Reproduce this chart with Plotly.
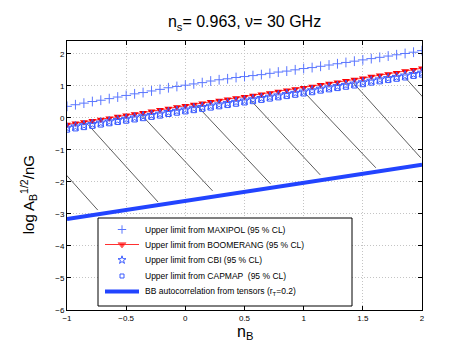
import numpy as np
import plotly.graph_objects as go

# n_B grid the limits were evaluated on (43 points from -1 to 2)
n_B = np.linspace(-1, 2, 43)

# upper limits, log A_B^{1/2}/nG
maxipol = [0.36, 0.41, 0.46, 0.51, 0.55, 0.60, 0.65, 0.70, 0.75, 0.79,
           0.84, 0.89, 0.94, 0.98, 1.02, 1.06, 1.10, 1.15, 1.19, 1.22,
           1.26, 1.29, 1.32, 1.35, 1.39, 1.43, 1.46, 1.50, 1.54, 1.57,
           1.61, 1.65, 1.69, 1.73, 1.77, 1.81, 1.85, 1.89, 1.93, 1.97,
           2.01, 2.05, 2.10]
boomerang = [-0.21, -0.17, -0.13, -0.09, -0.05, -0.01, 0.04, 0.08, 0.12, 0.16,
             0.21, 0.25, 0.29, 0.34, 0.38, 0.42, 0.46, 0.50, 0.54, 0.58,
             0.62, 0.66, 0.70, 0.74, 0.78, 0.82, 0.86, 0.90, 0.94, 0.98,
             1.03, 1.07, 1.11, 1.16, 1.20, 1.24, 1.29, 1.33, 1.37, 1.41,
             1.46, 1.50, 1.55]
cbi = [-0.31, -0.27, -0.23, -0.19, -0.15, -0.11, -0.07, -0.03, 0.01, 0.05,
       0.09, 0.13, 0.18, 0.22, 0.26, 0.30, 0.34, 0.38, 0.42, 0.46,
       0.50, 0.54, 0.58, 0.62, 0.66, 0.70, 0.74, 0.78, 0.82, 0.86,
       0.91, 0.95, 0.99, 1.03, 1.07, 1.11, 1.16, 1.20, 1.24, 1.28,
       1.32, 1.37, 1.41]
capmap = [-0.37, -0.33, -0.29, -0.25, -0.21, -0.17, -0.13, -0.09, -0.05, -0.01,
          0.03, 0.07, 0.12, 0.16, 0.20, 0.24, 0.28, 0.32, 0.36, 0.40,
          0.44, 0.48, 0.52, 0.56, 0.60, 0.64, 0.68, 0.72, 0.76, 0.80,
          0.85, 0.89, 0.93, 0.97, 1.01, 1.05, 1.10, 1.14, 1.18, 1.22,
          1.26, 1.31, 1.35]

# BB autocorrelation from tensors (r_T = 0.2)
bb_n = [-1, -0.5, 0, 0.5, 1, 1.5, 2]
bb_val = [-3.16, -2.88, -2.59, -2.31, -2.02, -1.74, -1.46]

# hatching segments below the limits (start / end in data coords)
hatch_n0 = [-1.33, -0.82, -0.37, 0.09, 0.55, 1.01, 1.42, 1.86]
hatch_y0 = [-0.45, -0.22, 0.09, 0.41, 0.56, 0.78, 1.09, 1.25]
hatch_n1 = [-0.74, -0.23, 0.23, 0.72, 1.14, 1.61, 1.99, 2.30]
hatch_y1 = [-2.88, -2.63, -2.28, -2.06, -1.78, -1.56, -1.25, -0.55]

legend_labels = ["Upper limit from MAXIPOL (95 % CL)",
                 "Upper limit from BOOMERANG (95 % CL)",
                 "Upper limit from CBI (95 % CL)",
                 "Upper limit from CAPMAP  (95 % CL)",
                 "BB autocorrelation from tensors (r<sub>T</sub>=0.2)"]

FONT = "Liberation Sans, Arial, sans-serif"
BLUE = "#3a5aff"
PLUS_BLUE = "#5a76ff"
RED = "#ff0000"
BB_BLUE = "#2244ff"

styles = [
    dict(mode="markers", marker=dict(symbol="cross-thin-open", size=7, color=PLUS_BLUE,
                                     line=dict(color=PLUS_BLUE, width=1))),
    dict(mode="lines+markers", line=dict(color="#ff3030", width=1),
         marker=dict(symbol="triangle-down", size=7, color=RED)),
    dict(mode="markers", marker=dict(symbol="star-open", size=7, color=BLUE,
                                     line=dict(color=BLUE, width=1))),
    dict(mode="markers", marker=dict(symbol="square-open", size=5, color=BLUE,
                                     line=dict(color=BLUE, width=1))),
    dict(mode="lines", line=dict(color=BB_BLUE, width=4)),
]
legend_marker_size = [6, 7, 6, 4, None]

fig = go.Figure()

# hatching first so the markers sit on top
hx, hy = [], []
for a, b, c, d in zip(hatch_n0, hatch_y0, hatch_n1, hatch_y1):
    hx += [a, c, None]
    hy += [b, d, None]
fig.add_trace(go.Scatter(x=hx, y=hy, mode="lines", showlegend=False,
                         line=dict(color="#333333", width=0.8), hoverinfo="skip"))

series = [(n_B, maxipol), (n_B, boomerang), (n_B, cbi), (n_B, capmap), (bb_n, bb_val)]
for (xs, ys), st, lab in zip(series, styles, legend_labels):
    fig.add_trace(go.Scatter(x=xs, y=ys, name=lab, showlegend=False, **st))

# MATLAB-like legend box, drawn on an overlay axis measured in pixels
fig.add_trace(go.Scatter(x=[90, 344, 344, 90, 90], y=[210, 210, 298, 298, 210],
                         xaxis="x2", yaxis="y2", mode="lines", fill="toself",
                         fillcolor="white", line=dict(color="black", width=1),
                         showlegend=False, hoverinfo="skip"))
leg_y = [221.5, 236.5, 252, 268, 283.5]
for yy, st, lab, ms in zip(leg_y, styles, legend_labels, legend_marker_size):
    mk = dict(st.get("marker", {}))
    if st["mode"] == "markers":
        xs, ys = [114], [yy]
        mk["size"] = ms
    else:
        xs, ys = [97, 114, 131], [yy, yy, yy]
        if mk:
            mk["size"] = [0, ms, 0]
    fig.add_trace(go.Scatter(x=xs, y=ys, xaxis="x2", yaxis="y2", mode=st["mode"],
                             line=st.get("line"), marker=mk or None,
                             showlegend=False, hoverinfo="skip", cliponaxis=False))
    fig.add_annotation(text=lab, x=135, y=yy, xref="x2", yref="y2", showarrow=False,
                       xanchor="left", yanchor="middle", font=dict(size=8.5))

axis_common = dict(
    showline=True, linecolor="black", linewidth=1, mirror="ticks",
    ticks="inside", ticklen=4, tickcolor="black",
    showgrid=True, gridcolor="#c4c4c4", griddash="1px,2px", gridwidth=1,
    zeroline=False, tickfont=dict(family=FONT, size=8, color="black"),
)

fig.update_xaxes(range=[-1, 2], tickvals=[-1, -0.5, 0, 0.5, 1, 1.5, 2], **axis_common)
fig.update_yaxes(range=[-6, 2.4], tickvals=[-6, -5, -4, -3, -2, -1, 0, 1, 2], **axis_common)

fig.update_layout(
    width=458, height=343,
    margin=dict(l=59, r=44, t=33, b=41),
    paper_bgcolor="white", plot_bgcolor="white",
    font=dict(family=FONT, color="black"),
    showlegend=False,
    xaxis2=dict(overlaying="x", range=[59, 414], visible=False, fixedrange=True),
    yaxis2=dict(overlaying="y", range=[302, 33], visible=False, fixedrange=True),
    title=dict(text="n<sub>s</sub>= 0.963, ν= 30 GHz", x=0.5, xref="paper",
               xanchor="center", y=0.96, yref="container", yanchor="middle",
               font=dict(size=16)),
)
fig.add_annotation(text="n<sub>B</sub>", x=0.5, y=-0.085, xref="paper", yref="paper",
                   showarrow=False, font=dict(size=16), xanchor="center", yanchor="middle")
fig.add_annotation(text="log A<sub>B</sub><sup>1/2</sup>/nG", x=-0.11, y=0.43,
                   xref="paper", yref="paper", showarrow=False, textangle=-90,
                   font=dict(size=15), xanchor="center", yanchor="middle")

fig.write_html("out.html")
